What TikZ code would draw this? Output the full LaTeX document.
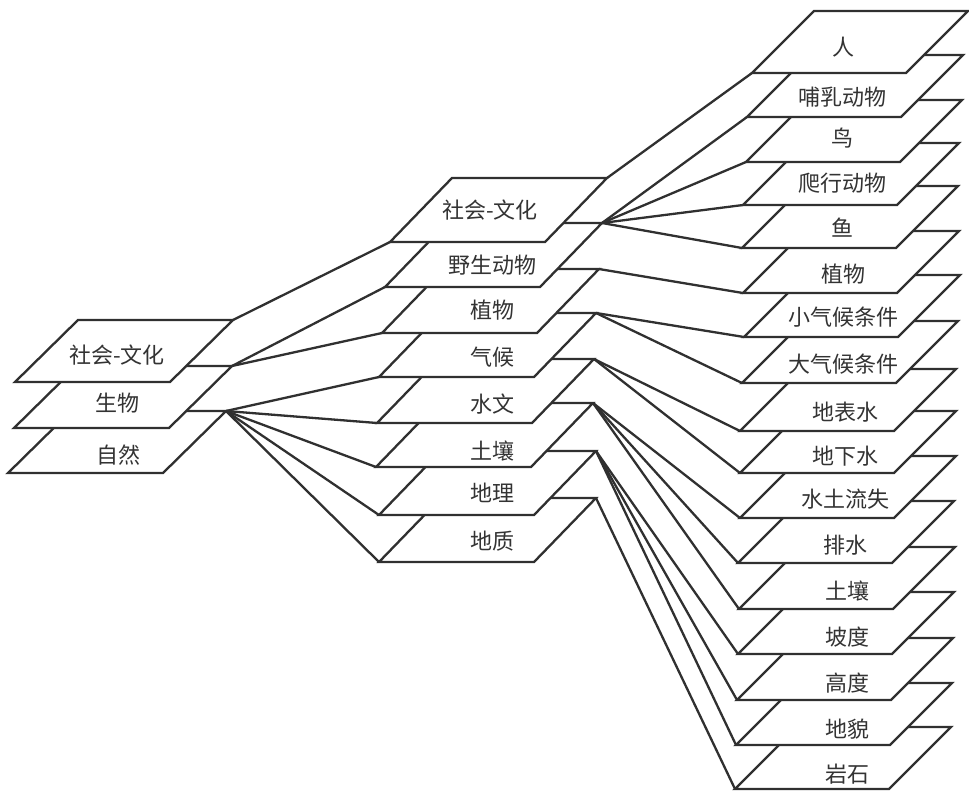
\documentclass[tikz,border=0pt]{standalone}
\usepackage{fontspec}
\setmainfont{Noto Sans CJK SC}
\usetikzlibrary{calc}
\definecolor{ink}{HTML}{303030}
\definecolor{txt}{HTML}{333333}
\newcommand\mklayer[6]{%
  \coordinate (#1-bl) at (#2,#3);
  \coordinate (#1-tr) at ($(#1-bl)+(#4+#5,-#6)$);
}
\newcommand\drawlayer[4]{%
  \draw[layerbox] (#1-bl) -- ++(#2,0) -- ++(#3,-#4) -- ++(-#2,0) -- cycle;
}
\begin{document}
\begin{tikzpicture}[x=1pt,y=-1pt,
  conn/.style={draw=ink, line width=2.3pt},
  layerbox/.style={draw=ink, fill=white, line width=2.3pt, line join=miter},
  lbl/.style={text=txt, font=\fontsize{22}{22}\selectfont, inner sep=0pt, anchor=center}]
\fill[white] (0,0) rectangle (969,792);
\useasboundingbox (0,0) rectangle (969,792);
% left stack
\foreach \n/\x/\y in {L1/15/382, L2/14/428, L3/8/473}{\mklayer{\n}{\x}{\y}{155}{63}{62}}
% middle stack
\foreach \n/\x/\y in {M1/390/242, M2/385/287, M3/382/333, M4/379/377, M5/377/423, M6/376/467, M7/379/515, M8/379/562}{\mklayer{\n}{\x}{\y}{155}{62}{64}}
% right stack
\foreach \n/\x/\y in {R1/752/73, R2/747/117, R3/746/162, R4/743/205, R5/742/248, R6/743/293, R7/744/337, R8/742/383, R9/740/431, R10/740/473, R11/740/518, R12/738/563, R13/739/609, R14/738/654, R15/737/700, R16/736/745, R17/735/789}{\mklayer{\n}{\x}{\y}{154}{62}{62}}
% connectors
\draw[conn] (L1-tr) -- (M1-bl);
\foreach \t in {M2,M3}{\draw[conn] (L2-tr) -- (\t-bl);}
\foreach \t in {M4,M5,M6,M7,M8}{\draw[conn] (L3-tr) -- (\t-bl);}
\draw[conn] (M1-tr) -- (R1-bl);
\foreach \t in {R2,R3,R4,R5}{\draw[conn] (M2-tr) -- (\t-bl);}
\draw[conn] (M3-tr) -- (R6-bl);
\foreach \t in {R7,R8}{\draw[conn] (M4-tr) -- (\t-bl);}
\foreach \t in {R9,R10}{\draw[conn] (M5-tr) -- (\t-bl);}
\foreach \t in {R11,R12,R13}{\draw[conn] (M6-tr) -- (\t-bl);}
\foreach \t in {R14,R15,R16}{\draw[conn] (M7-tr) -- (\t-bl);}
\draw[conn] (M8-tr) -- (R17-bl);
% layers, bottom first
\foreach \n in {L3,L2,L1}{\drawlayer{\n}{155}{63}{62}}
\foreach \n in {M8,M7,M6,M5,M4,M3,M2,M1}{\drawlayer{\n}{155}{62}{64}}
\foreach \n in {R17,R16,R15,R14,R13,R12,R11,R10,R9,R8,R7,R6,R5,R4,R3,R2,R1}{\drawlayer{\n}{154}{62}{62}}
% labels
\node[lbl] (L1-t) at (117,355) {社会-文化};
\node[lbl] (L2-t) at (117,403) {生物};
\node[lbl] (L3-t) at (118,455) {自然};
\node[lbl] (M1-t) at (490,210) {社会-文化};
\node[lbl] (M2-t) at (492,265) {野生动物};
\node[lbl] (M3-t) at (492,310) {植物};
\node[lbl] (M4-t) at (492,357) {气候};
\node[lbl] (M5-t) at (492,404) {水文};
\node[lbl] (M6-t) at (492,451) {土壤};
\node[lbl] (M7-t) at (492,493) {地理};
\node[lbl] (M8-t) at (492,541) {地质};
\node[lbl] (R1-t) at (843,47) {人};
\node[lbl] (R2-t) at (842,97) {哺乳动物};
\node[lbl] (R3-t) at (842,138) {鸟};
\node[lbl] (R4-t) at (842,183) {爬行动物};
\node[lbl] (R5-t) at (842,228) {鱼};
\node[lbl] (R6-t) at (843,274) {植物};
\node[lbl] (R7-t) at (843,317) {小气候条件};
\node[lbl] (R8-t) at (843,364) {大气候条件};
\node[lbl] (R9-t) at (845,412) {地表水};
\node[lbl] (R10-t) at (845,456) {地下水};
\node[lbl] (R11-t) at (845,499) {水土流失};
\node[lbl] (R12-t) at (845,545) {排水};
\node[lbl] (R13-t) at (847,591) {土壤};
\node[lbl] (R14-t) at (847,637) {坡度};
\node[lbl] (R15-t) at (847,683) {高度};
\node[lbl] (R16-t) at (847,729) {地貌};
\node[lbl] (R17-t) at (847,774) {岩石};
\end{tikzpicture}
\end{document}
